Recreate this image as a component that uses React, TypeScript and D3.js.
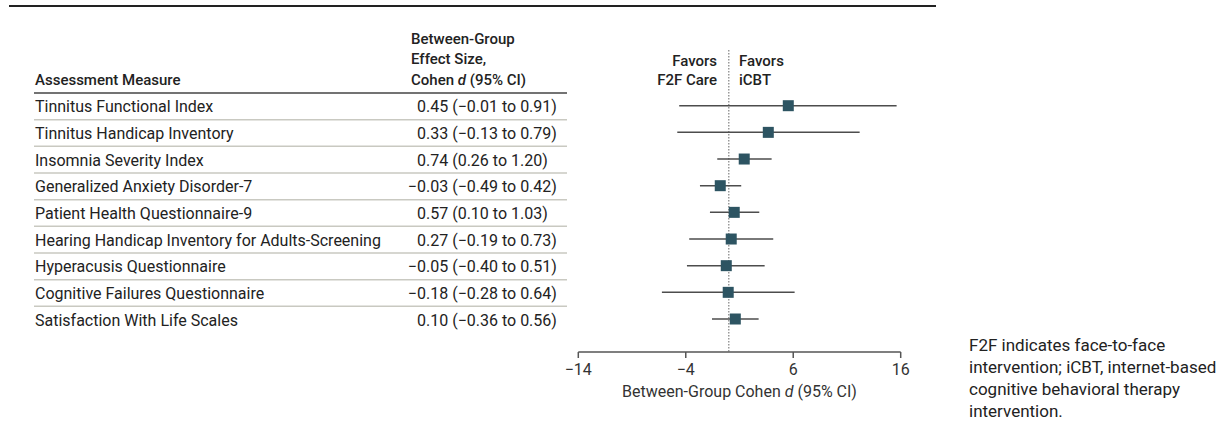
import * as d3 from "d3";

// table columns
const measures = [
  "Tinnitus Functional Index",
  "Tinnitus Handicap Inventory",
  "Insomnia Severity Index",
  "Generalized Anxiety Disorder-7",
  "Patient Health Questionnaire-9",
  "Hearing Handicap Inventory for Adults-Screening",
  "Hyperacusis Questionnaire",
  "Cognitive Failures Questionnaire",
  "Satisfaction With Life Scales",
];
const effectD = ["0.45", "0.33", "0.74", "−0.03", "0.57", "0.27", "−0.05", "−0.18", "0.10"];
const ciLow = ["−0.01", "−0.13", "0.26", "−0.49", "0.10", "−0.19", "−0.40", "−0.28", "−0.36"];
const ciHigh = ["0.91", "0.79", "1.20", "0.42", "1.03", "0.73", "0.51", "0.64", "0.56"];

// plotted marks
const plotEst = [5.54, 3.68, 1.44, -0.79, 0.51, 0.23, -0.23, -0.05, 0.61];
const plotLo = [-4.61, -4.79, -1.07, -2.68, -1.75, -3.68, -3.89, -6.22, -1.56];
const plotHi = [15.62, 12.18, 3.99, 1.16, 2.84, 4.14, 3.34, 6.13, 2.78];

const xTicks = [-14, -4, 6, 16];

const font = "Roboto, 'Noto Sans', sans-serif";

export default function App() {
  const width = 1230;
  const height = 421;

  const x = d3.scaleLinear().domain([-14, 16]).range([578.3, 900.7]);
  const y = d3.scalePoint<string>().domain(measures).range([106.7, 320]);
  const axisY = 352;
  const sq = 11;
  const fmt = (v: number) => (v < 0 ? "−" + Math.abs(v) : String(v));

  return (
    <svg
      width={width}
      height={height}
      style={{ position: "absolute", left: 0, top: 0, background: "#fff" }}
      fontFamily={font}
    >
      {/* top rule */}
      <line x1={9} x2={936} y1={6} y2={6} stroke="#222" strokeWidth={2} />

      {/* headers */}
      <g fontWeight={500} fontSize={15} fill="#222">
        <text x={35} y={85}>Assessment Measure</text>
        <text x={411} y={44}>Between-Group</text>
        <text x={411} y={64}>Effect Size,</text>
        <text x={411} y={85}>
          Cohen <tspan fontStyle="italic">d</tspan> (95% CI)
        </text>
        <text x={717} y={66} textAnchor="end">Favors</text>
        <text x={717} y={85} textAnchor="end">F2F Care</text>
        <text x={739} y={66}>Favors</text>
        <text x={739} y={85}>iCBT</text>
      </g>
      <line x1={34} x2={567} y1={93} y2={93} stroke="#444" strokeWidth={1.5} />

      {/* rows */}
      <g fontSize={16} fill="#222">
        {measures.map((m, i) => {
          const cy = y(m)!;
          const neg = effectD[i].startsWith("−");
          const rest = `${neg ? effectD[i].slice(1) : effectD[i]} (${ciLow[i]} to ${ciHigh[i]})`;
          return (
            <g key={m}>
              <text x={35} y={cy + 5.5}>{m}</text>
              {neg && (
                <text x={417} y={cy + 5.5} textAnchor="end">−</text>
              )}
              <text x={417} y={cy + 5.5}>{rest}</text>
              {i < measures.length - 1 && (
                <line
                  x1={34}
                  x2={567}
                  y1={cy + 13}
                  y2={cy + 13}
                  stroke="#c9c9c1"
                  strokeWidth={1.5}
                />
              )}
            </g>
          );
        })}
      </g>

      {/* null line */}
      <line
        x1={x(0)}
        x2={x(0)}
        y1={50}
        y2={axisY}
        stroke="#999"
        strokeWidth={1.5}
        strokeDasharray="1.5,1.5"
      />

      {/* CIs and estimates */}
      {measures.map((m, i) => {
        const cy = y(m)! - 1;
        return (
          <g key={"p" + m}>
            <line
              x1={x(plotLo[i])}
              x2={x(plotHi[i])}
              y1={cy}
              y2={cy}
              stroke="#4d4d4d"
              strokeWidth={1.5}
            />
            <rect
              x={x(plotEst[i]) - sq / 2}
              y={cy - sq / 2}
              width={sq}
              height={sq}
              fill="#2d5462"
            />
          </g>
        );
      })}

      {/* x axis */}
      <line x1={x(-14)} x2={x(16)} y1={axisY} y2={axisY} stroke="#555" strokeWidth={1.5} />
      {xTicks.map((t) => (
        <g key={t}>
          <line x1={x(t)} x2={x(t)} y1={axisY} y2={axisY + 6} stroke="#555" strokeWidth={1.5} />
          <text x={x(t)} y={375} textAnchor="middle" fontSize={16} fill="#333">
            {fmt(t)}
          </text>
        </g>
      ))}
      <text x={(x(-14) + x(16)) / 2} y={397} textAnchor="middle" fontSize={16} fill="#333">
        Between-Group Cohen <tspan fontStyle="italic">d</tspan> (95% CI)
      </text>

      {/* footnote */}
      <g fontSize={17} fill="#222">
        <text x={969} y={351}>F2F indicates face-to-face</text>
        <text x={969} y={373}>intervention; iCBT, internet-based</text>
        <text x={969} y={395}>cognitive behavioral therapy</text>
        <text x={969} y={417}>intervention.</text>
      </g>
    </svg>
  );
}
